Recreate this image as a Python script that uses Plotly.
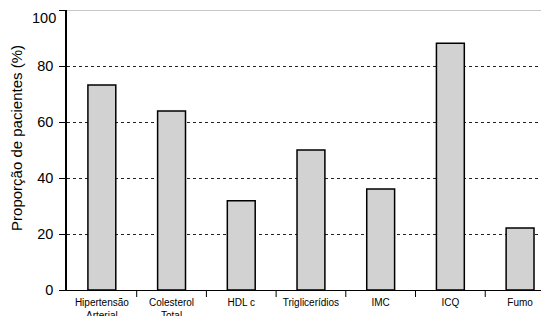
import plotly.graph_objects as go

categories = ["Hipertensão<br>Arterial", "Colesterol<br>Total", "HDL c", "Triglicerídios", "IMC", "ICQ", "Fumo"]
values = [73.2, 63.9, 31.9, 50.0, 36.1, 88.1, 22.1]
y_ticks = [0, 20, 40, 60, 80, 100]
y_tick_text = ["0", "20", "40", "60", "80", ""]  # "100" placed as annotation (drawn lower in the original)

# The page body has an 8px default margin, so figure coords = window coords - 8
fig = go.Figure()
fig.add_trace(go.Bar(
    x=list(range(len(categories))), y=values,
    marker=dict(color="#d2d2d2", line=dict(color="black", width=1.5)),
    width=0.4,
))
fig.add_shape(type="line", xref="paper", yref="y", x0=0, x1=1, y0=100, y1=100,
              line=dict(color="#909090", width=1))

fig.update_layout(
    width=549, height=316,
    margin=dict(l=59, r=8, t=2, b=34),
    paper_bgcolor="white", plot_bgcolor="white",
    font=dict(family="Liberation Sans, Arial, sans-serif", color="black"),
    showlegend=False,
    xaxis=dict(
        range=[-0.5, 6.415], automargin=False,
        tickmode="array", tickvals=list(range(len(categories))), ticktext=categories,
        tickfont=dict(size=10), ticklabelstandoff=3,
        showline=True, linecolor="black", linewidth=1.2,
        showgrid=False, zeroline=False,
        ticks="",
    ),
    yaxis=dict(
        range=[0, 100], tickvals=y_ticks, ticktext=y_tick_text, automargin=False,
        tickfont=dict(size=14.5), ticklabelstandoff=3,
        showline=True, linecolor="black", linewidth=1.5,
        ticks="outside", ticklen=6, tickcolor="black", tickwidth=1,
        showgrid=True, gridcolor="#222222", griddash="dot", gridwidth=1,
        zeroline=False,
    ),
    annotations=[
        dict(text="Proporção de pacientes (%)", textangle=-90,
             xref="paper", yref="paper", x=(9 - 59) / 482, y=0.543,
             xanchor="center", yanchor="middle", showarrow=False, font=dict(size=15)),
        dict(text="100", xref="paper", yref="y", x=(50 - 59) / 482, y=97.2,
             xanchor="right", yanchor="middle", showarrow=False, font=dict(size=14.5)),
    ],
)
# category boundary tick marks on x-axis
for i in range(len(categories)):
    fig.add_shape(type="line", xref="x", yref="paper", x0=i + 0.5, x1=i + 0.5, y0=0, y1=-0.025,
                  line=dict(color="black", width=1))

fig.write_html("out.html")
